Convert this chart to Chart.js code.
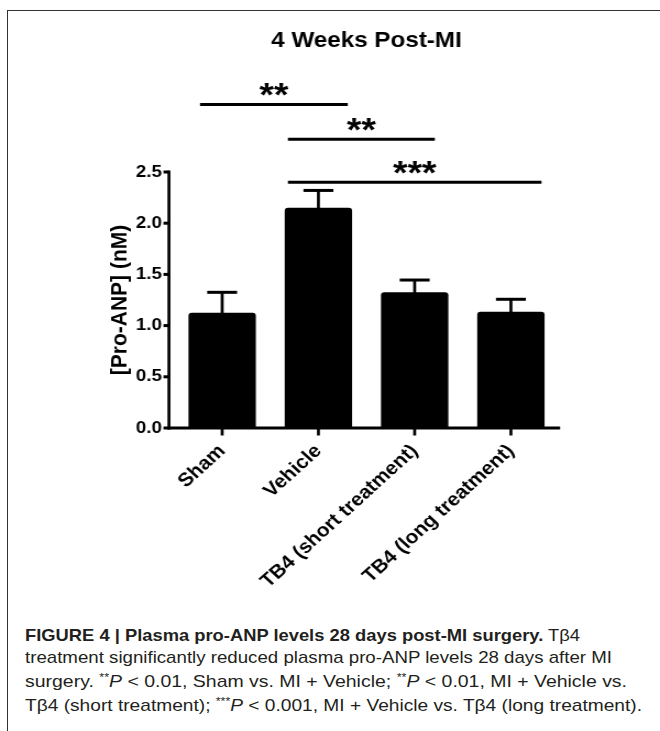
<!DOCTYPE html>
<html><head><meta charset="utf-8">
<script src="https://cdn.jsdelivr.net/npm/chart.js@4"></script>
<style>
html,body{margin:0;padding:0;background:#fff;width:660px;height:731px;overflow:hidden;}
#frame{position:absolute;left:7px;top:10px;width:700px;height:800px;border-left:1px solid #333;border-top:1px solid #333;}
#wrap{position:absolute;left:0;top:0;width:600px;height:600px;transform:scaleX(1.1);transform-origin:0 0;}
.cap{position:absolute;left:25px;font-family:"Liberation Sans",Arial,sans-serif;font-size:17px;line-height:17px;white-space:nowrap;color:#231f20;transform-origin:0 0;}
.st{font-size:11px;position:relative;top:-6px;}
</style></head><body>
<div id="frame"></div>
<div id="wrap"><canvas id="c"></canvas></div>
<div class="cap" data-w="555" style="top:626.6px"><b>FIGURE 4 | Plasma pro-ANP levels 28 days post-MI surgery.</b> Tβ4</div>
<div class="cap" data-w="587" style="top:648.6px">treatment significantly reduced plasma pro-ANP levels 28 days after MI</div>
<div class="cap" data-w="602" style="top:672.6px">surgery. <span class="st">**</span><i>P</i> &lt; 0.01, Sham vs. MI + Vehicle; <span class="st">**</span><i>P</i> &lt; 0.01, MI + Vehicle vs.</div>
<div class="cap" data-w="617" style="top:696.6px">Tβ4 (short treatment); <span class="st">***</span><i>P</i> &lt; 0.001, MI + Vehicle vs. Tβ4 (long treatment).</div>
<script>
const categories = ['Sham', 'Vehicle', 'TB4 (short treatment)', 'TB4 (long treatment)'];
const means = [1.125, 2.15, 1.325, 1.135];
const sem = [0.20, 0.17, 0.12, 0.122];
const yTicks = [0, 0.5, 1.0, 1.5, 2.0, 2.5];
const sigFrom = [-0.23, 0.683, 0.683];
const sigTo = [1.305, 2.21, 3.318];
const sigLevel = [3.16, 2.82, 2.40];
const sigLabels = ['**', '**', '***'];
const chartTitle = '4 Weeks Post-MI';
const yTitle = '[Pro-ANP] (nM)';

const FONT = '"Liberation Sans", Arial, Helvetica, sans-serif';

const decor = {
  id: 'decor',
  afterDatasetsDraw(chart) {
    const {ctx, chartArea: a, scales: {x, y}} = chart;
    const meta = chart.getDatasetMeta(0);
    ctx.save();
    ctx.strokeStyle = '#000';
    ctx.fillStyle = '#000';
    ctx.lineCap = 'butt';
    // error bars
    meta.data.forEach((bar, i) => {
      const cx = bar.x;
      const yb = y.getPixelForValue(means[i]);
      const yt = y.getPixelForValue(means[i] + sem[i]);
      ctx.lineWidth = 2.7;
      ctx.beginPath(); ctx.moveTo(cx, yb + 2); ctx.lineTo(cx, yt); ctx.stroke();
      ctx.lineWidth = 3;
      ctx.beginPath(); ctx.moveTo(cx - 13.6, yt); ctx.lineTo(cx + 13.6, yt); ctx.stroke();
    });
    // axes
    const ax = a.left - 4.6;
    const y0 = y.getPixelForValue(0);
    const yTop = y.getPixelForValue(yTicks[yTicks.length - 1]);
    ctx.lineWidth = 2.7;
    ctx.beginPath(); ctx.moveTo(ax, yTop - 1.5); ctx.lineTo(ax, y0 + 1.5); ctx.stroke();
    ctx.lineWidth = 3;
    yTicks.forEach(v => {
      const py = y.getPixelForValue(v);
      ctx.beginPath(); ctx.moveTo(ax - 5, py); ctx.lineTo(ax, py); ctx.stroke();
    });
    ctx.beginPath(); ctx.moveTo(ax - 1.35, y0); ctx.lineTo(a.right + 1, y0); ctx.stroke();
    ctx.lineWidth = 2.7;
    categories.forEach((c, i) => {
      const px = x.getPixelForValue(i);
      ctx.beginPath(); ctx.moveTo(px, y0); ctx.lineTo(px, y0 + 7.5); ctx.stroke();
    });
    // significance bars
    const cw = x.getPixelForValue(1) - x.getPixelForValue(0);
    const x0 = x.getPixelForValue(0);
    sigLabels.forEach((lab, i) => {
      const xa = x0 + sigFrom[i] * cw, xb = x0 + sigTo[i] * cw;
      const py = y.getPixelForValue(sigLevel[i]);
      ctx.lineWidth = 3;
      ctx.beginPath(); ctx.moveTo(xa, py); ctx.lineTo(xb, py); ctx.stroke();
      ctx.font = 'bold 34px ' + FONT;
      ctx.textAlign = 'center';
      ctx.textBaseline = 'alphabetic';
      ctx.fillText(lab, (xa + xb) / 2, py + 2);
    });
    // title
    ctx.font = 'bold 22px ' + FONT;
    ctx.textAlign = 'center';
    ctx.textBaseline = 'alphabetic';
    ctx.fillText(chartTitle, (a.left + a.right) / 2, 47);
    ctx.restore();
  }
};

new Chart(document.getElementById('c'), {
  type: 'bar',
  data: {
    labels: categories,
    datasets: [{
      data: means,
      backgroundColor: '#000',
      borderWidth: 0,
      borderRadius: 3,
      borderSkipped: 'bottom',
      barPercentage: 0.70,
      categoryPercentage: 1.0
    }]
  },
  options: {
    responsive: true,
    maintainAspectRatio: false,
    animation: false,
    layout: {padding: {left: 0, right: 91.8, top: 172, bottom: 0}},
    plugins: {legend: {display: false}, tooltip: {enabled: false}, title: {display: false}},
    scales: {
      x: {
        type: 'category',
        offset: true,
        grid: {display: false, drawTicks: false},
        border: {display: false},
        ticks: {
          autoSkip: false, maxRotation: 45, minRotation: 45, padding: 12,
          color: '#000', font: {family: FONT, size: 19, weight: 'bold'}
        },
        afterFit: s => { s.height = 172; }
      },
      y: {
        min: 0, max: 2.5,
        grid: {display: false, drawTicks: false},
        border: {display: false},
        ticks: {
          stepSize: 0.5, padding: 11, color: '#000',
          font: {family: FONT, size: 17, weight: 'bold'},
          callback: v => Number(v).toFixed(1)
        },
        afterBuildTicks: s => { s.ticks = yTicks.map(v => ({value: v})); },
        title: {
          display: true, text: yTitle, color: '#000',
          font: {family: FONT, size: 21, weight: 'bold'},
          padding: {top: 97, bottom: 0}
        },
        afterFit: s => { s.width = 158.2; }
      }
    }
  },
  plugins: [decor]
});

document.querySelectorAll('.cap').forEach(el => {
  const target = parseFloat(el.dataset.w);
  const w = el.getBoundingClientRect().width;
  el.style.transform = 'scaleX(' + (target / w) + ')';
});
</script>
</body></html>
